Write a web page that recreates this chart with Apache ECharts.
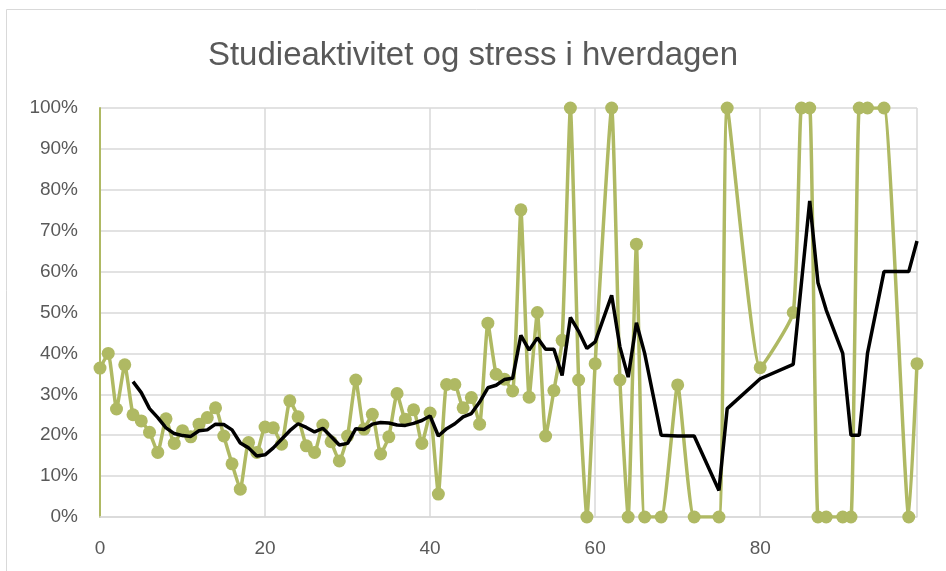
<!DOCTYPE html>
<html>
<head>
<meta charset="utf-8">
<script src="https://cdn.jsdelivr.net/npm/echarts@6/dist/echarts.min.js"></script>
<style>
html, body { margin: 0; padding: 0; background: #fff; }
#chart { width: 946px; height: 571px; }
</style>
</head>
<body>
<div id="chart"></div>
<script>
// x positions (days) that have a measurement
const days = [0, 1, 2, 3, 4, 5, 6, 7, 8, 9, 10, 11, 12, 13, 14, 15, 16, 17, 18, 19,
    20, 21, 22, 23, 24, 25, 26, 27, 28, 29, 30, 31, 32, 33, 34, 35, 36, 37, 38, 39,
    40, 41, 42, 43, 44, 45, 46, 47, 48, 49, 50, 51, 52, 53, 54, 55, 56, 57, 58, 59,
    60, 62, 63, 64, 65, 66, 68, 70, 72, 75, 76, 80, 84, 85, 86, 87, 88, 90, 91, 92,
    93, 95, 98, 99];

// stress level in percent (green)
const stress = [36.4, 40.0, 26.4, 37.2, 25.0, 23.5, 20.7, 15.8, 24.0, 18.0, 21.1, 19.6, 22.7, 24.3, 26.7, 19.8, 13.0, 6.8, 18.2, 15.8,
    22.0, 21.8, 17.8, 28.4, 24.5, 17.4, 15.8, 22.5, 18.4, 13.7, 19.8, 33.5, 21.5, 25.1, 15.4, 19.6, 30.2, 23.9, 26.2, 18.0,
    25.4, 5.6, 32.4, 32.4, 26.7, 29.2, 22.7, 47.4, 34.9, 33.7, 30.8, 75.1, 29.3, 50.0, 19.8, 30.9, 43.2, 100, 33.5, 0,
    37.5, 100, 33.5, 0, 66.7, 0, 0, 32.3, 0, 0, 100, 36.5, 50.0, 100, 100, 0, 0, 0, 0, 100,
    100, 100, 0, 37.5];

// trend line (black), starts at day 4
const trend = [null, null, null, null, 33.1, 30.4, 26.5, 24.3, 21.8, 20.4, 19.9, 19.7, 21.1, 21.3, 22.7, 22.6, 21.3, 18.1, 16.9, 14.9,
    15.2, 16.9, 19.0, 21.1, 22.8, 21.9, 20.8, 21.7, 19.7, 17.6, 18.0, 21.6, 21.4, 22.7, 23.1, 23.0, 22.5, 22.4, 22.9, 23.6,
    24.7, 19.8, 21.6, 22.8, 24.5, 25.3, 28.1, 31.6, 32.2, 33.6, 33.9, 44.4, 40.8, 43.8, 41.0, 41.0, 34.6, 48.8, 45.4, 41.2,
    42.8, 54.2, 41.6, 34.2, 47.5, 40.0, 20.0, 19.8, 19.8, 6.5, 26.5, 33.8, 37.3, 57.3, 77.3, 57.3, 50.6, 40.0, 20.0, 20.0,
    40.0, 60.0, 60.0, 67.5];

const green = '#afb963';
const labelColor = '#595959';

const chart = echarts.init(document.getElementById('chart'));

var option = {
    backgroundColor: '#fff',
    animation: false,
    graphic: [{
        type: 'rect',
        shape: { x: 6.5, y: 9.5, width: 960, height: 600 },
        style: { fill: 'none', stroke: '#d9d9d9', lineWidth: 1 },
        silent: true
    }],
    title: {
        text: 'Studieaktivitet og stress i hverdagen',
        left: 'center',
        top: 34,
        textStyle: {
            fontFamily: 'Liberation Sans',
            fontSize: 33,
            fontWeight: 'normal',
            color: labelColor
        }
    },
    grid: {
        left: 100,
        right: 29,
        top: 108,
        bottom: 54
    },
    xAxis: {
        type: 'value',
        min: 0,
        max: 99,
        interval: 20,
        axisLine: {
            show: true,
            lineStyle: { color: '#d9d9d9', width: 1.5 }
        },
        axisTick: { show: false },
        axisLabel: {
            color: labelColor,
            fontFamily: 'Liberation Sans',
            fontSize: 19,
            margin: 22,
            showMaxLabel: false
        },
        splitLine: {
            lineStyle: { color: '#d9d9d9', width: 1.5 }
        }
    },
    yAxis: {
        type: 'value',
        min: 0,
        max: 100,
        interval: 10,
        axisLine: {
            show: true,
            lineStyle: { color: green, width: 2 }
        },
        axisTick: { show: false },
        axisLabel: {
            color: labelColor,
            fontFamily: 'Liberation Sans',
            fontSize: 19,
            margin: 22,
            formatter: '{value}%'
        },
        splitLine: {
            lineStyle: { color: '#d9d9d9', width: 1.5 }
        }
    },
    series: [{
        name: 'Stress',
        type: 'line',
        smooth: 0.15,
        data: days.map((d, i) => [d, stress[i]]),
        symbol: 'circle',
        symbolSize: 13,
        itemStyle: { color: green },
        lineStyle: { color: green, width: 3.5 },
        z: 2
    }, {
        name: 'Trend',
        type: 'line',
        data: days.map((d, i) => [d, trend[i]]),
        showSymbol: false,
        symbol: 'none',
        lineStyle: { color: '#000', width: 3.5 },
        z: 3
    }]
};

chart.setOption(option);
</script>
</body>
</html>
